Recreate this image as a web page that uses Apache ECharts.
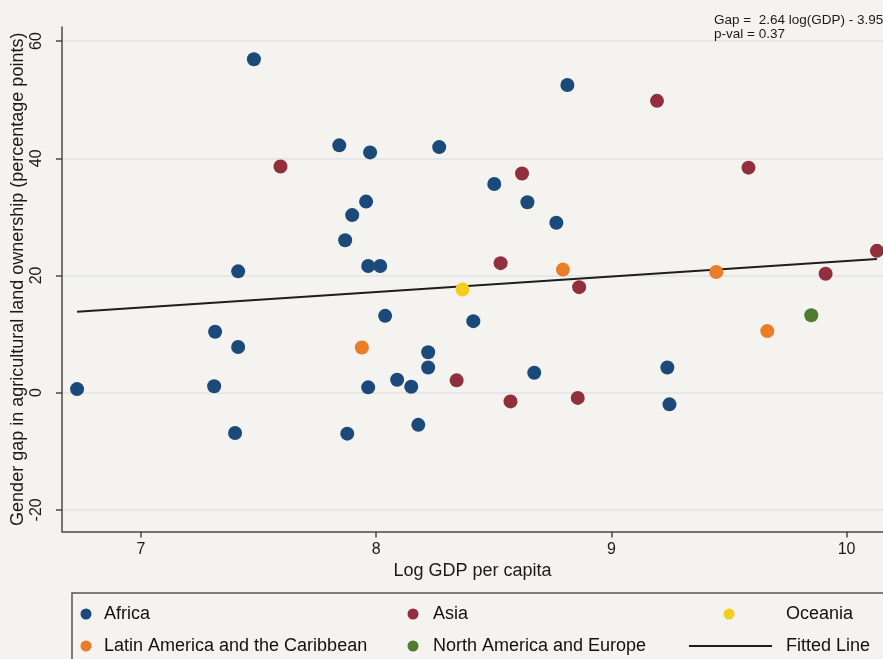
<!DOCTYPE html>
<html>
<head>
<meta charset="utf-8">
<script src="https://cdn.jsdelivr.net/npm/echarts@6/dist/echarts.min.js"></script>
<style>
  html, body { margin: 0; padding: 0; background: #f4f3ef; }
  #chart { width: 883px; height: 659px; }
</style>
</head>
<body>
<div id="chart"></div>
<script>
// Log GDP per capita (x) vs gender gap in agricultural land ownership (y), by region
const africa = [
  [6.728, 0.6], [7.48, 56.9], [7.843, 42.2], [7.974, 41.0], [8.268, 41.9],
  [8.813, 52.5], [8.502, 35.6], [8.643, 32.5], [8.766, 29.0], [7.957, 32.6],
  [7.898, 30.3], [7.868, 26.0], [7.413, 20.7], [7.966, 21.6], [8.017, 21.6],
  [8.038, 13.1], [8.413, 12.2], [7.315, 10.4], [7.413, 7.8], [8.221, 6.9],
  [8.221, 4.3], [7.311, 1.1], [7.966, 0.9], [8.089, 2.2], [8.149, 1.0],
  [8.672, 3.4], [7.40, -6.9], [7.877, -7.0], [8.179, -5.5], [9.238, 4.3],
  [9.247, -2.0]
];
const asia = [
  [7.593, 38.6], [9.194, 49.8], [9.583, 38.4], [8.620, 37.4], [10.129, 24.2],
  [8.529, 22.1], [8.863, 18.0], [9.911, 20.3], [8.342, 2.1], [8.571, -1.5],
  [8.857, -0.9]
];
const oceania = [[8.367, 17.6]];
const latinAmerica = [[7.939, 7.7], [8.794, 21.0], [9.446, 20.6], [9.663, 10.5]];
const northAmericaEurope = [[9.850, 13.2]];

// Fitted regression: Gap = slope * log(GDP) + intercept
const fitCoef = { slope: 2.64, intercept: -3.95 };
const pValue = 0.37;

const xTicks = [7, 8, 9, 10];
const yTicks = [-20, 0, 20, 40, 60];

// The fitted line spans the observed range of log GDP
const allX = [].concat(africa, asia, oceania, latinAmerica, northAmericaEurope).map(p => p[0]);
const fitX = [Math.min(...allX), Math.max(...allX)];
const fitted = fitX.map(x => [x, fitCoef.slope * x + fitCoef.intercept]);

const FONT = '"Liberation Sans", Arial, sans-serif';
const INK = '#1a1a1a';
const AXIS = '#4a4a4a';
const colors = {
  africa: '#1b4a7a',
  asia: '#922f3c',
  oceania: '#f3cf1c',
  latin: '#ea7d25',
  nae: '#4f7c30',
  fit: '#1e1e1e'
};

function scatter(name, data, color) {
  return {
    name, type: 'scatter', data, symbol: 'circle', symbolSize: 14,
    itemStyle: { color, opacity: 1 }, z: 3
  };
}

const legendText = { fontFamily: FONT, fontSize: 18, lineHeight: 18, color: '#111' };
function legendColumn(left, top, names, opts) {
  return Object.assign({
    orient: 'vertical', padding: 0, left, top, data: names,
    itemWidth: 11, itemHeight: 11, itemGap: 14, icon: 'circle',
    selectedMode: false,
    textStyle: Object.assign({}, legendText, { padding: [0, 0, 0, opts.textPad] })
  }, opts.extra || {});
}

const chart = echarts.init(document.getElementById('chart'), null, { renderer: 'canvas' });
chart.setOption({
  backgroundColor: '#f4f3ef',
  animation: false,
  textStyle: { fontFamily: FONT },
  title: {
    text: 'Gap =  ' + fitCoef.slope.toFixed(2) + ' log(GDP) - ' + Math.abs(fitCoef.intercept).toFixed(2) +
      '\np-val = ' + pValue.toFixed(2),
    left: 714, top: 14, padding: 0,
    textStyle: { fontFamily: FONT, fontSize: 13.5, fontWeight: 'normal', color: INK, lineHeight: 13.5 }
  },
  grid: { left: 62, right: 0, top: 27, bottom: 127.5, containLabel: false, outerBoundsMode: 'none' },
  xAxis: {
    type: 'value', min: 6.664, max: 10.155,
    name: 'Log GDP per capita', nameLocation: 'middle', nameGap: 28,
    nameTextStyle: { fontFamily: FONT, fontSize: 18, color: INK },
    axisLine: { show: true, onZero: false, lineStyle: { color: AXIS, width: 1.5 } },
    axisTick: { show: true, length: 6, customValues: xTicks, lineStyle: { color: AXIS, width: 1.5 } },
    axisLabel: { customValues: xTicks, margin: 10, fontFamily: FONT, fontSize: 16, color: INK },
    splitLine: { show: false }
  },
  yAxis: {
    type: 'value', min: -23.7, max: 62.4,
    name: 'Gender gap in agricultural land ownership (percentage points)',
    nameLocation: 'middle', nameGap: 35, nameMoveOverlap: false,
    nameTextStyle: { fontFamily: FONT, fontSize: 18, color: INK },
    axisLine: { show: true, onZero: false, lineStyle: { color: AXIS, width: 1.5 } },
    axisTick: { show: true, length: 6, customValues: yTicks, lineStyle: { color: AXIS, width: 1.5 } },
    axisLabel: { customValues: yTicks, rotate: 90, margin: 17, fontFamily: FONT, fontSize: 16, color: INK },
    splitLine: { show: true, lineStyle: { color: '#e2e4e5', width: 1.5 } }
  },
  legend: [
    legendColumn(80.5, 605, ['Africa', 'Latin America and the Caribbean'], { textPad: 7.5 }),
    legendColumn(407.5, 605, ['Asia', 'North America and Europe'], { textPad: 9.5 }),
    legendColumn(723.5, 605, ['Oceania'], { textPad: 46.5 }),
    legendColumn(689, 637, ['Fitted Line'], {
      textPad: 9, extra: { itemWidth: 83, itemHeight: 2, icon: 'rect' }
    })
  ],
  graphic: [{
    type: 'rect', silent: true,
    shape: { x: 72, y: 593, width: 830, height: 100 },
    style: { fill: 'none', stroke: '#555', lineWidth: 1.5 }
  }],
  series: [
    scatter('Africa', africa, colors.africa),
    scatter('Asia', asia, colors.asia),
    scatter('Oceania', oceania, colors.oceania),
    scatter('Latin America and the Caribbean', latinAmerica, colors.latin),
    scatter('North America and Europe', northAmericaEurope, colors.nae),
    {
      name: 'Fitted Line', type: 'line', data: fitted, symbol: 'none', showSymbol: false,
      lineStyle: { color: colors.fit, width: 2 }, itemStyle: { color: colors.fit }, z: 2
    }
  ]
});
</script>
</body>
</html>
